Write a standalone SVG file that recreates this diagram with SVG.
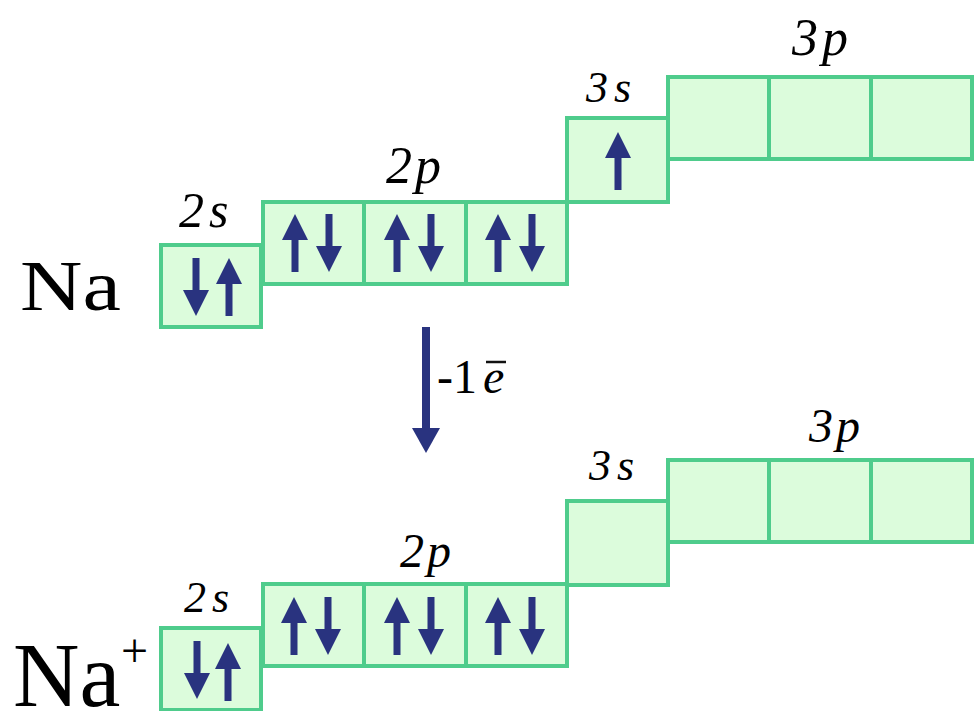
<svg xmlns="http://www.w3.org/2000/svg" width="974" height="711" viewBox="0 0 974 711">
<style>
.box{fill:#dcfcdc;stroke:#4fcc8c;stroke-width:4}
.e{fill:#29337f}
</style>
<rect width="974" height="711" fill="#fff"/>

<g id="labels">
<text transform="translate(20,310) scale(1.2,1)" x="0" y="0" font-family="Liberation Serif" font-size="72">Na</text>
<text x="179" y="227" font-family="Liberation Serif" font-style="italic" font-size="50">2<tspan dx="5">s</tspan></text>
<text x="386" y="183" font-family="Liberation Serif" font-style="italic" font-size="52">2<tspan dx="3">p</tspan></text>
<text x="586" y="102" font-family="Liberation Serif" font-style="italic" font-size="44">3<tspan dx="6">s</tspan></text>
<text x="792" y="55" font-family="Liberation Serif" font-style="italic" font-size="52">3<tspan dx="4">p</tspan></text>
<text x="13" y="706" font-family="Liberation Serif" font-size="92">Na</text>
<text x="121" y="667" font-family="Liberation Serif" font-size="48">+</text>
<text x="184" y="612" font-family="Liberation Serif" font-style="italic" font-size="44">2<tspan dx="6">s</tspan></text>
<text x="400" y="567" font-family="Liberation Serif" font-style="italic" font-size="48">2<tspan dx="3">p</tspan></text>
<text x="589" y="480" font-family="Liberation Serif" font-style="italic" font-size="44">3<tspan dx="6">s</tspan></text>
<text x="809" y="442" font-family="Liberation Serif" font-style="italic" font-size="48">3<tspan dx="3">p</tspan></text>
</g>

<g id="na-2s">
<rect class="box" x="161" y="245" width="100" height="82"/>
<polygon class="e" points="192.5,258 192.5,290 183,290 196,316 209,290 199.5,290 199.5,258"/>
<polygon class="e" points="225.5,316 225.5,284 216,284 229,258 242,284 232.5,284 232.5,316"/>
</g>
<g id="na-2p">
<rect class="box" x="263" y="202" width="101" height="82"/>
<rect class="box" x="364" y="202" width="102" height="82"/>
<rect class="box" x="466" y="202" width="101" height="82"/>
<polygon class="e" points="291.5,272 291.5,240 282,240 295,214 308,240 298.5,240 298.5,272"/>
<polygon class="e" points="325.5,214 325.5,246 316,246 329,272 342,246 332.5,246 332.5,214"/>
<polygon class="e" points="393.5,272 393.5,240 384,240 397,214 410,240 400.5,240 400.5,272"/>
<polygon class="e" points="427.5,214 427.5,246 418,246 431,272 444,246 434.5,246 434.5,214"/>
<polygon class="e" points="494.5,272 494.5,240 485,240 498,214 511,240 501.5,240 501.5,272"/>
<polygon class="e" points="528.5,214 528.5,246 519,246 532,272 545,246 535.5,246 535.5,214"/>
</g>
<g id="na-3s">
<rect class="box" x="567" y="118" width="101" height="84"/>
<polygon class="e" points="614.5,190 614.5,158 605,158 618,132 631,158 621.5,158 621.5,190"/>
</g>
<g id="na-3p">
<rect class="box" x="668" y="77" width="101" height="82"/>
<rect class="box" x="769" y="77" width="102" height="82"/>
<rect class="box" x="871" y="77" width="101" height="82"/>
</g>

<g id="connectors">
<line x1="426" y1="327" x2="426" y2="432" stroke="#29337f" stroke-width="8"/>
<polygon class="e" points="412,428 440,428 426,453"/>
<text x="437" y="393" font-family="Liberation Serif" font-size="48">-1<tspan font-style="italic" dx="6">e</tspan></text>
<line x1="486" y1="362" x2="506" y2="362" stroke="#111" stroke-width="2.5"/>
</g>

<g id="nap-2s">
<rect class="box" x="161" y="628" width="100" height="82"/>
<polygon class="e" points="193.5,641 193.5,673 184,673 197,699 210,673 200.5,673 200.5,641"/>
<polygon class="e" points="224.5,701 224.5,669 215,669 228,643 241,669 231.5,669 231.5,701"/>
</g>
<g id="nap-2p">
<rect class="box" x="263" y="584" width="101" height="82"/>
<rect class="box" x="364" y="584" width="102" height="82"/>
<rect class="box" x="466" y="584" width="101" height="82"/>
<polygon class="e" points="290.5,655 290.5,623 281,623 294,597 307,623 297.5,623 297.5,655"/>
<polygon class="e" points="324.5,597 324.5,629 315,629 328,655 341,629 331.5,629 331.5,597"/>
<polygon class="e" points="393.5,655 393.5,623 384,623 397,597 410,623 400.5,623 400.5,655"/>
<polygon class="e" points="427.5,597 427.5,629 418,629 431,655 444,629 434.5,629 434.5,597"/>
<polygon class="e" points="494.5,655 494.5,623 485,623 498,597 511,623 501.5,623 501.5,655"/>
<polygon class="e" points="528.5,597 528.5,629 519,629 532,655 545,629 535.5,629 535.5,597"/>
</g>
<g id="nap-3s">
<rect class="box" x="567" y="501" width="101" height="84"/>
</g>
<g id="nap-3p">
<rect class="box" x="668" y="460" width="101" height="82"/>
<rect class="box" x="769" y="460" width="102" height="82"/>
<rect class="box" x="871" y="460" width="101" height="82"/>
</g>
</svg>
